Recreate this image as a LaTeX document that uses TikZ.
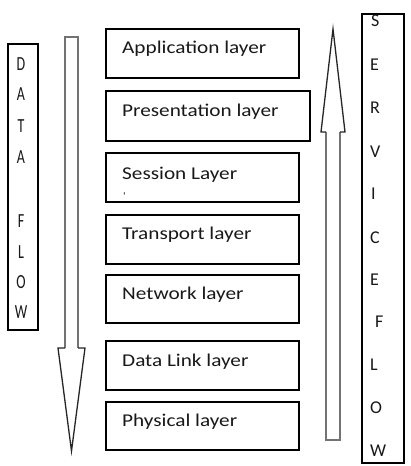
\documentclass[tikz,border=0pt]{standalone}
\usepackage{fontspec}
\setmainfont{Carlito}
\newfontfamily\layfont[FakeStretch=1.18]{Carlito}
\newfontfamily\narrowfont[FakeStretch=0.7]{Carlito}
\begin{document}
\begin{tikzpicture}[x=1pt,y=-1pt,
  layerbox/.style={draw=black,line width=1.6pt},
  laytext/.style={anchor=base west,inner sep=0pt,font=\layfont\fontsize{18}{20}\selectfont,text=black!90},
  leftletter/.style={anchor=base,inner sep=0pt,font=\narrowfont\fontsize{20}{22}\selectfont,text=black!90},
  rightletter/.style={anchor=base west,inner sep=0pt,font=\fontsize{18}{20}\selectfont,text=black!90},
  shaft/.style={draw=black!55,line width=1.5pt},
  head/.style={draw=black!85,line width=1.3pt,line join=miter},
  flowbox/.style={draw=black,line width=1.5pt}]
\useasboundingbox (0,0) rectangle (410,466);
\fill[white] (0,0) rectangle (410,466);

% DATA FLOW box
\draw[flowbox] (8,44) rectangle (38,330);
\draw[line width=2.5pt] (8,44) -- (38,44);
\foreach \ch/\y [count=\i] in {D/70,A/100,T/132,A/163,F/227,L/258,O/288,W/318}
  \node[leftletter] (dl\i) at (21,\y) {\ch};

% down arrow
\draw[shaft] (65,348) -- (65,37) -- (78,37) -- (78,348);
\draw[head] (65,348) -- (58,348) -- (71.5,451) -- (85,348) -- (78,348);

% layer boxes
\draw[layerbox] (106,29) rectangle (299,78) node[pos=0,anchor=north west,inner sep=0pt] (app) {};
\draw[layerbox] (106,91) rectangle (310,141) node[pos=0,anchor=north west,inner sep=0pt] (pre) {};
\draw[layerbox] (106,153) rectangle (299,202) node[pos=0,anchor=north west,inner sep=0pt] (ses) {};
\draw[layerbox] (106,215) rectangle (299,264) node[pos=0,anchor=north west,inner sep=0pt] (tra) {};
\draw[layerbox] (106,275) rectangle (299,323) node[pos=0,anchor=north west,inner sep=0pt] (net) {};
\draw[layerbox] (106,341) rectangle (299,390) node[pos=0,anchor=north west,inner sep=0pt] (dll) {};
\draw[layerbox] (106,402) rectangle (299,450) node[pos=0,anchor=north west,inner sep=0pt] (phy) {};

\node[laytext] (tapp) at (122,53) {Application layer};
\node[laytext] (tpre) at (122,116) {Presentation layer};
\node[laytext] (tses) at (122,179) {Session Layer};
\node[laytext] (tdot) at (123,199) {\fontsize{10}{10}\selectfont'};
\node[laytext] (ttra) at (122,239) {Transport layer};
\node[laytext] (tnet) at (122,299) {Network layer};
\node[laytext] (tdll) at (122,366) {Data Link layer};
\node[laytext] (tphy) at (122,426) {Physical layer};

% up arrow
\draw[shaft] (326,132) -- (326,440) -- (340,440) -- (340,132);
\draw[head] (326,132) -- (321,132) -- (333,29) -- (345,132) -- (340,132);

% SERVICE FLOW box
\foreach \ch/\y/\x [count=\i] in {S/26/371,E/70/370,R/113/370,V/157/370,I/199/371,C/243/370,E/285/370,F/327/375,L/370/370,O/413/370,W/456/370}
  \node[rightletter] (sl\i) at (\x,\y) {\ch};
\draw[flowbox] (362,14) rectangle (404,463);
\end{tikzpicture}
\end{document}
